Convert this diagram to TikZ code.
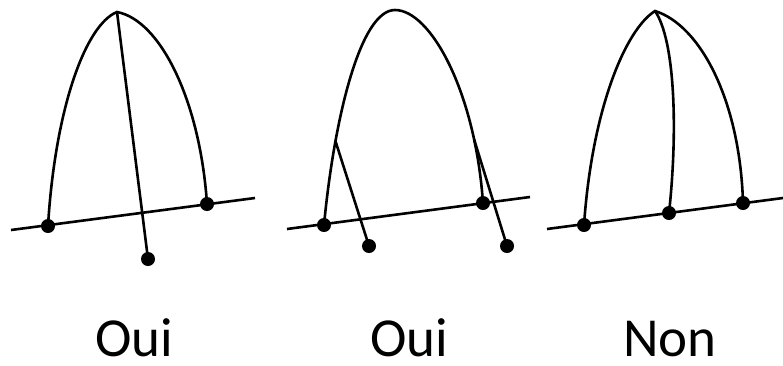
\documentclass[tikz,border=0pt]{standalone}
\usepackage{fontspec}
\setmainfont{Carlito}

\begin{document}
\begin{tikzpicture}[x=1pt, y=-1pt,
		linie/.style={line width=2.6pt, line cap=round},
		punkt/.style={circle, fill=black, inner sep=0pt, minimum size=14pt},
		antwort/.style={font=\fontsize{55}{60}\selectfont, anchor=base, inner sep=0pt, text depth=0pt}]
		\useasboundingbox (0,0) rectangle (783,365);
		% Bild 1
		\coordinate (l1) at (11,230);
		\coordinate (r1) at (255,198);
		\coordinate (s1) at (117,12);
		\draw[line width=2.6pt] (l1) -- (r1);
		\draw[linie] (48,226) coordinate (a1) .. controls (55,110) and (85,25) .. (s1)
			.. controls (160,20) and (200,100) .. (207,204) coordinate (b1);
		\draw[linie] (s1) -- (148,259) coordinate (c1);
		\node[punkt] (p1a) at (a1) {};
		\node[punkt] (p1b) at (b1) {};
		\node[punkt] (p1c) at (c1) {};
		% Bild 2
		\coordinate (l2) at (287,229);
		\coordinate (r2) at (530,197);
		\coordinate (s2) at (395,10);
		\draw[line width=2.6pt] (l2) -- (r2);
		\draw[linie] (324,225) coordinate (a2) .. controls (334,120) and (360,10) .. coordinate[pos=0.27] (k2) (s2)
			.. controls (430,10) and (475,90) .. coordinate[pos=0.8] (m2) (483,203) coordinate (b2);
		\draw[linie] (k2) -- (369,246) coordinate (c2);
		\draw[linie] (m2) -- (507,246) coordinate (d2);
		\node[punkt] (p2a) at (a2) {};
		\node[punkt] (p2b) at (b2) {};
		\node[punkt] (p2c) at (c2) {};
		\node[punkt] (p2d) at (d2) {};
		% Bild 3
		\coordinate (l3) at (547,229);
		\coordinate (r3) at (783,198);
		\coordinate (s3) at (655,11);
		\draw[line width=2.6pt] (l3) -- (r3);
		\draw[linie] (584,225) coordinate (a3) .. controls (592,110) and (625,30) .. (s3)
			.. controls (700,25) and (740,100) .. (743,203) coordinate (b3);
		\draw[linie] (s3) .. controls (675,40) and (678,130) .. (669,213) coordinate (c3);
		\node[punkt] (p3a) at (a3) {};
		\node[punkt] (p3b) at (b3) {};
		\node[punkt] (p3c) at (c3) {};
		% Beschriftung
		\node[antwort] (t1) at (134,356) {Oui};
		\node[antwort] (t2) at (409,356) {Oui};
		\node[antwort] (t3) at (670,356) {Non};
\end{tikzpicture}
\end{document}
